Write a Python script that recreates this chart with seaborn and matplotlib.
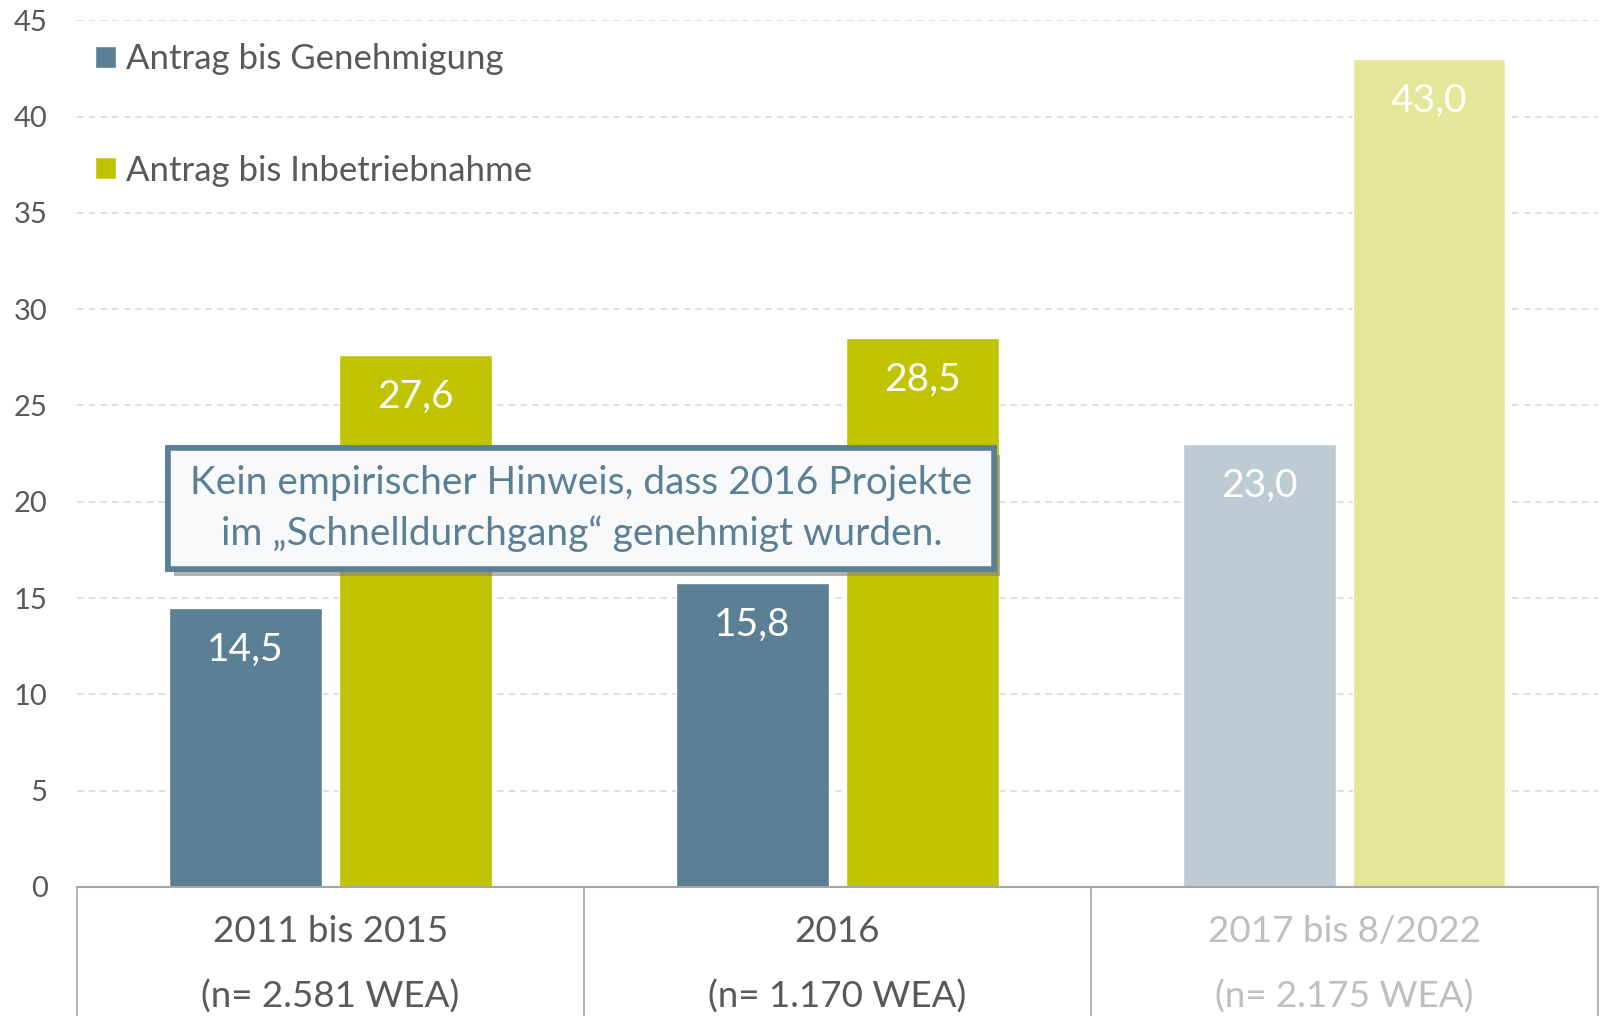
import pandas as pd
import matplotlib.pyplot as plt
import matplotlib.patheffects as pe
from matplotlib.patches import Rectangle
import seaborn as sns

# Daten
zeitraum = ['2011 bis 2015', '2016', '2017 bis 8/2022']
anlagen = ['(n= 2.581 WEA)', '(n= 1.170 WEA)', '(n= 2.175 WEA)']
serien = ['Antrag bis Genehmigung', 'Antrag bis Inbetriebnahme']
genehmigung = [14.5, 15.8, 23.0]
inbetriebnahme = [27.6, 28.5, 43.0]

farben = ['#5B7F95', '#BFC300']
farben_blass = ['#BDCCD4', '#E4E69A']
grau = '#595959'

df = pd.DataFrame({
    'zeitraum': zeitraum * 2,
    'serie': [serien[0]] * 3 + [serien[1]] * 3,
    'monate': genehmigung + inbetriebnahme,
})

sns.set_theme(style='white')
plt.rcParams['font.family'] = ['Lato', 'DejaVu Sans']

fig = plt.figure(figsize=(16.04, 10.16), dpi=100)
ax = fig.add_axes([0.048, 0.127, 0.948, 0.853])

sns.barplot(data=df, x='zeitraum', y='monate', hue='serie', palette=farben,
            saturation=1, width=0.67, gap=0.1, ax=ax, zorder=2)

# Legende
handles, labels = ax.get_legend_handles_labels()
leg = ax.legend(handles, labels, loc='upper left', bbox_to_anchor=(0.012, 0.974),
                frameon=False, fontsize=25, handlelength=0.6, handleheight=0.6,
                handletextpad=0.3, labelspacing=2.3, borderaxespad=0, borderpad=0)
for t in leg.get_texts():
    t.set_color(grau)

# letzte Periode blass
for i, cont in enumerate(ax.containers):
    cont.patches[2].set_facecolor(farben_blass[i])
    werte = [genehmigung, inbetriebnahme][i]
    ax.bar_label(cont, labels=[f'{v:.1f}'.replace('.', ',') for v in werte],
                 padding=-43, color='white', fontsize=28)

ax.set_ylim(0, 45)
ax.set_xlim(-0.5, 2.5)
ax.set_yticks(range(0, 46, 5))
ax.yaxis.grid(True, linestyle=(0, (4, 3)), color='#D9D9D9', linewidth=1.2)
ax.set_axisbelow(True)
ax.tick_params(axis='y', length=0, pad=21, labelsize=21, labelcolor=grau)

ax.set_xticks(range(3))
ax.set_xticklabels([f'{z}\n{n}' for z, n in zip(zeitraum, anlagen)], linespacing=2.15)
ax.tick_params(axis='x', length=0, pad=20, labelsize=26.5)
for i, t in enumerate(ax.get_xticklabels()):
    t.set_color('#BFBFBF' if i == 2 else grau)
ax.set_xlabel('')
ax.set_ylabel('')

for s in ['left', 'top', 'right']:
    ax.spines[s].set_visible(False)
ax.spines['bottom'].set_color('#A6A6A6')
ax.spines['bottom'].set_linewidth(1.5)

# Tabellenlinien unter der Achse
ax.vlines([-0.5, 0.5, 1.5, 2.5], 0, -0.3, transform=ax.get_xaxis_transform(),
          colors='#A6A6A6', linewidth=1.2, clip_on=False)

# Hinweisbox
box = Rectangle((-0.32, 16.5), 1.63, 6.3, facecolor='#F8F9FB', edgecolor='#5B7F95',
                linewidth=4, zorder=4)
box.set_path_effects([pe.withSimplePatchShadow(offset=(4, -5), shadow_rgbFace='#808080', alpha=0.6),
                      pe.Normal()])
ax.add_patch(box)
ax.text(0.495, 19.65, 'Kein empirischer Hinweis, dass 2016 Projekte\nim „Schnelldurchgang“ genehmigt wurden.',
        ha='center', va='center', fontsize=28, color='#5B7F95', linespacing=1.48, zorder=5)

plt.savefig('out.png', dpi=100)
